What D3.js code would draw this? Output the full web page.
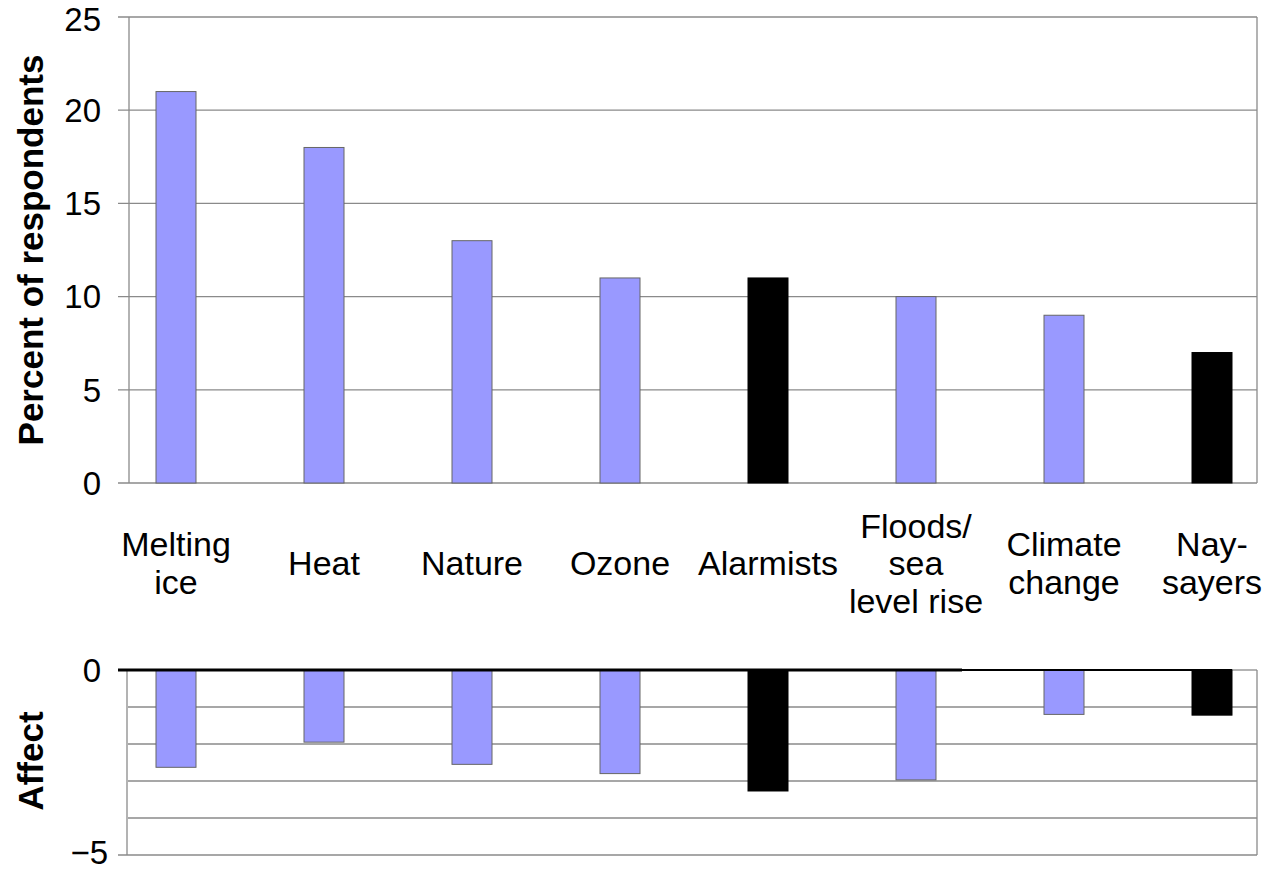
<!DOCTYPE html>
<html><head><meta charset="utf-8">
<script src="https://cdn.jsdelivr.net/npm/d3@7"></script>
<style>body{margin:0;background:#fff}svg{display:block}</style>
</head><body>
<svg id="c" width="1276" height="871"></svg>
<script>
const categories = ["Melting ice","Heat","Nature","Ozone","Alarmists","Floods/ sea level rise","Climate change","Nay-sayers"];
const labelLines = [["Melting","ice"],["Heat"],["Nature"],["Ozone"],["Alarmists"],["Floods/","sea","level rise"],["Climate","change"],["Nay-","sayers"]];
const percentValues = [21, 18, 13, 11, 11, 10, 9, 7];
const affectValues = [-2.63, -1.95, -2.55, -2.8, -3.27, -2.97, -1.2, -1.22];
const isBlack = [false,false,false,false,true,false,false,true];
const topTicks = [0,5,10,15,20,25];
const bottomTicks = [0,-5];
const bottomGrid = [0,-1,-2,-3,-4,-5];

const svg = d3.select("#c");
const font = "'Liberation Sans', Arial, sans-serif";
const left = 128, right = 1257;
const x = d3.scalePoint().domain(categories).range([176, 1212]);
const bw = 40;
const yTop = d3.scaleLinear().domain([0,25]).range([483,17]);
const yBot = d3.scaleLinear().domain([-5,0]).range([855,670]);
const blue = "#9999ff";

// ---- top chart ----
const gT = svg.append("g");
gT.selectAll("line.grid").data(topTicks).join("line")
  .attr("x1", 118).attr("x2", right).attr("y1", d=>yTop(d)).attr("y2", d=>yTop(d))
  .attr("stroke", "#8a8a8a").attr("stroke-width", 1.3);
gT.append("line").attr("x1", left+1).attr("x2", left+1).attr("y1", yTop(25)).attr("y2", yTop(0))
  .attr("stroke","#8a8a8a").attr("stroke-width",1.3);
gT.append("line").attr("x1", right).attr("x2", right).attr("y1", yTop(25)).attr("y2", yTop(0))
  .attr("stroke","#8a8a8a").attr("stroke-width",1.3);
gT.selectAll("text.tick").data(topTicks).join("text")
  .attr("x", 101).attr("y", d=>yTop(d)).attr("dy", d=>d===25?"0.42em":"0.36em")
  .attr("text-anchor","end").attr("font-family",font).attr("font-size",33)
  .text(d=>d);
gT.selectAll("rect").data(categories).join("rect")
  .attr("x", d=>x(d)-bw/2).attr("width", bw)
  .attr("y", (d,i)=>yTop(percentValues[i]))
  .attr("height", (d,i)=>yTop(0)-yTop(percentValues[i]))
  .attr("fill", (d,i)=>isBlack[i]?"#000":blue)
  .attr("stroke", (d,i)=>isBlack[i]?"#000":"#666").attr("stroke-width",1);
gT.append("text").attr("transform","translate(43,250) rotate(-90)")
  .attr("text-anchor","middle").attr("font-family",font).attr("font-size",35).attr("font-weight","bold")
  .text("Percent of respondents");

// category labels
const lh = 37.5, labelMid = 563;
const lab = svg.append("g");
labelLines.forEach((lines,i)=>{
  const t = lab.append("text").attr("font-family",font).attr("font-size",34)
    .attr("text-anchor","middle");
  const y0 = labelMid - (lines.length-1)*lh/2;
  lines.forEach((ln,j)=>{
    t.append("tspan").attr("x", x(categories[i])).attr("y", y0 + j*lh).attr("dy","0.36em").text(ln);
  });
});

// ---- bottom chart ----
const gB = svg.append("g");
gB.selectAll("line.grid").data(bottomGrid.slice(1)).join("line")
  .attr("x1", d=>bottomTicks.includes(d)?118:left).attr("x2", right)
  .attr("y1", d=>yBot(d)).attr("y2", d=>yBot(d))
  .attr("stroke", "#8a8a8a").attr("stroke-width", 1.3);
gB.append("line").attr("x1", left-1).attr("x2", left-1).attr("y1", yBot(0)).attr("y2", yBot(-5))
  .attr("stroke","#8a8a8a").attr("stroke-width",1.3);
gB.append("line").attr("x1", right).attr("x2", right).attr("y1", yBot(0)).attr("y2", yBot(-5))
  .attr("stroke","#8a8a8a").attr("stroke-width",1.3);
gB.append("line").attr("x1", 1232).attr("x2", right).attr("y1", yBot(0)).attr("y2", yBot(0))
  .attr("stroke","#8a8a8a").attr("stroke-width",1.3);
gB.selectAll("rect").data(categories).join("rect")
  .attr("x", d=>x(d)-bw/2).attr("width", bw)
  .attr("y", yBot(0))
  .attr("height", (d,i)=>yBot(affectValues[i])-yBot(0))
  .attr("fill", (d,i)=>isBlack[i]?"#000":blue)
  .attr("stroke", (d,i)=>isBlack[i]?"#000":"#666").attr("stroke-width",1);
gB.append("line").attr("x1", 118).attr("x2", 962).attr("y1", yBot(0)).attr("y2", yBot(0))
  .attr("stroke","#000").attr("stroke-width",3);
gB.append("line").attr("x1", 962).attr("x2", 1232).attr("y1", yBot(0)).attr("y2", yBot(0))
  .attr("stroke","#000").attr("stroke-width",2);
gB.selectAll("text.tick").data(bottomTicks).join("text")
  .attr("x", d=>d<0?108:101).attr("y", d=>yBot(d)).attr("dy", d=>d<0?"0.28em":"0.36em")
  .attr("text-anchor","end").attr("font-family",font).attr("font-size",33)
  .text(d=>d<0?"\u2212"+Math.abs(d):d);
gB.append("text").attr("transform","translate(43,761) rotate(-90)")
  .attr("text-anchor","middle").attr("font-family",font).attr("font-size",35).attr("font-weight","bold")
  .text("Affect");
</script>
</body></html>
